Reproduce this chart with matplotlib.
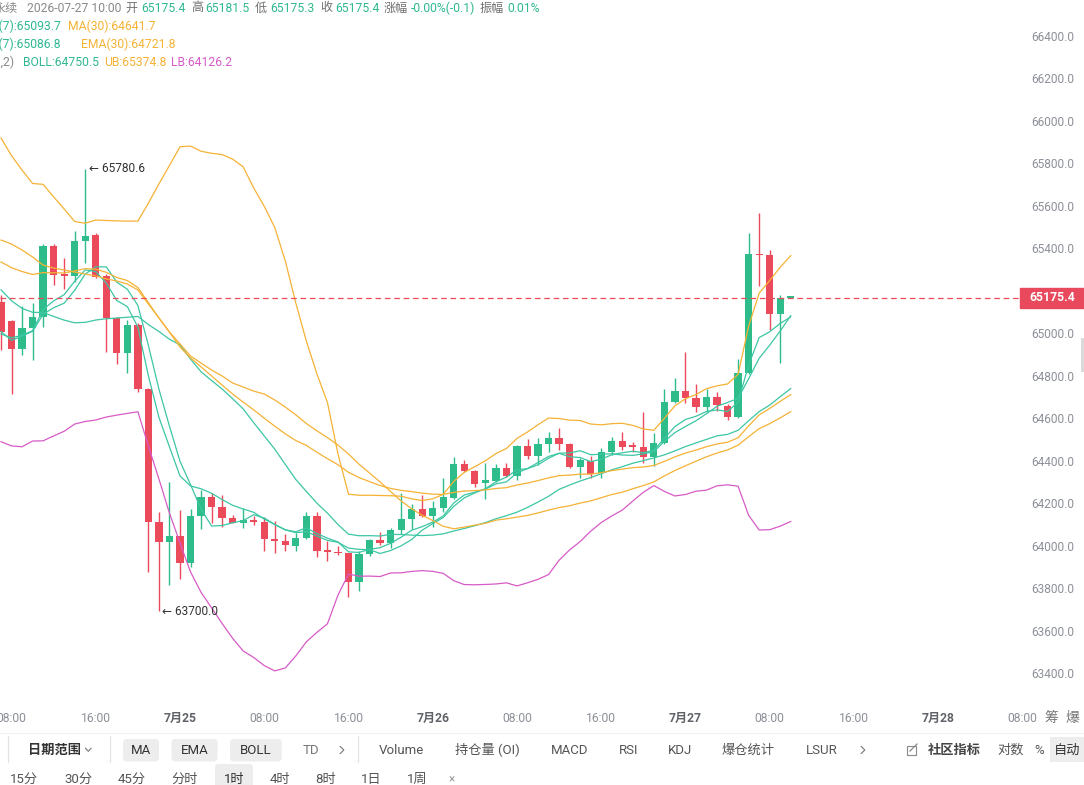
import numpy as np
import pandas as pd
import matplotlib
matplotlib.use('Agg')
import matplotlib.pyplot as plt
from matplotlib.patches import Rectangle, FancyBboxPatch

plt.rcParams['font.family'] = ['Roboto', 'Noto Sans CJK SC', 'DejaVu Sans']

# ---------------- data (1h candles, 2026-07-24 07:00 .. 2026-07-27 10:00) ----------------
opens = [65156, 65065, 64933, 65033, 65084, 65418, 65286, 65277, 65441, 65470,
         65276, 65080, 64916, 65046, 64745, 64119, 64026, 64055, 63925, 64149,
         64235, 64191, 64136, 64113, 64128, 64118, 64040, 64028, 64007, 64045,
         64147, 63987, 63978, 63972, 63838, 63968, 64034, 64022, 64081, 64133,
         64179, 64147, 64183, 64233, 64392, 64359, 64302, 64313, 64372, 64337,
         64477, 64430, 64485, 64513, 64485, 64379, 64406, 64348, 64447, 64500,
         64481, 64473, 64426, 64489, 64682, 64735, 64701, 64659, 64706, 64666,
         64614, 64819, 65380, 65375, 65096, 65175.4]
highs = [65187, 65070, 65135, 65151, 65427, 65427, 65363, 65488, 65780.6, 65479,
         65286, 65085, 65070, 65055, 64750, 64167, 64309, 64175, 64178, 64270,
         64255, 64246, 64152, 64183, 64149, 64144, 64124, 64061, 64069, 64166,
         64166, 64031, 64007, 63975, 63984, 64039, 64073, 64089, 64254, 64202,
         64245, 64218, 64325, 64426, 64411, 64364, 64395, 64392, 64395, 64482,
         64510, 64513, 64544, 64560, 64490, 64419, 64430, 64466, 64517, 64541,
         64497, 64635, 64539, 64743, 64795, 64918, 64768, 64743, 64732, 64674,
         64885, 65478, 65574, 65399, 65187, 65181.5]
lows = [64928, 64721, 64905, 64881, 65038, 65234, 65215, 65250, 65338, 65265,
        64920, 64862, 64820, 64732, 63885, 63700.0, 63822, 63851, 63909, 64086,
        64114, 64097, 64113, 64092, 64105, 63984, 63972, 63982, 63984, 64040,
        63953, 63935, 63964, 63767, 63794, 63959, 64011, 63998, 64061, 64086,
        64141, 64094, 64167, 64228, 64353, 64285, 64226, 64309, 64332, 64317,
        64414, 64387, 64450, 64458, 64375, 64325, 64325, 64325, 64434, 64458,
        64450, 64398, 64382, 64485, 64678, 64678, 64638, 64638, 64643, 64599,
        64610, 64815, 65230, 65023, 64866, 65175.3]
closes = [65015, 64933, 65033, 65084, 65418, 65281, 65277, 65441, 65466, 65273,
          65080, 64916, 65046, 64745, 64119, 64026, 64055, 63925, 64149, 64235,
          64191, 64136, 64116, 64128, 64118, 64038, 64028, 64009, 64045, 64147,
          63984, 63978, 63972, 63838, 63968, 64034, 64022, 64081, 64133, 64179,
          64147, 64183, 64235, 64392, 64359, 64298, 64317, 64372, 64337, 64477,
          64431, 64485, 64513, 64485, 64379, 64411, 64345, 64447, 64500, 64473,
          64473, 64426, 64489, 64682, 64735, 64701, 64662, 64706, 64670, 64614,
          64819, 65380, 65374, 65096, 65172, 65175.4]

# indicator values before their windows fill
ma30_head = [65446, 65427, 65399, 65366, 65328, 65314, 65305, 65295, 65286, 65277,
             65263, 65253, 65239, 65211, 65145, 65079, 65013, 64957, 64900, 64867,
             64834, 64806, 64773, 64754, 64735, 64721, 64693, 64660, 64623]
ub_head = [65926, 65843, 65775, 65712, 65708, 65649, 65592, 65533, 65525, 65540,
           65538, 65536, 65535, 65535, 65620, 65710, 65797, 65885, 65888]
lb_head = [64497, 64477, 64473, 64500, 64501, 64524, 64546, 64580, 64592, 64599,
           64613, 64622, 64630, 64638, 64476, 64321, 64161, 64020, 63884]
ema7_seed = 65000
ema30_seed = 65365
last_price = 65175.4

x_tick_pos = [1, 9, 17, 25, 33, 41, 49, 57, 65, 73, 81, 89, 97]
x_tick_labels = ['08:00', '16:00', '7月25', '08:00', '16:00', '7月26', '08:00',
                 '16:00', '7月27', '08:00', '16:00', '7月28', '08:00']
y_ticks = list(range(63400, 66401, 200))

header1 = [('永续', '#8a8a8a'), ('2026-07-27 10:00', '#8a8a8a'),
           ('开', '#707070'), ('65175.4', None), ('高', '#707070'), ('65181.5', None),
           ('低', '#707070'), ('65175.3', None), ('收', '#707070'), ('65175.4', None),
           ('涨幅', '#707070'), ('-0.00%(-0.1)', None), ('振幅', '#707070'), ('0.01%', None)]
header1_x = [-6.5, 26.8, 125.7, 141, 191, 205, 255, 270, 320, 335, 384, 411, 480, 507]

# ---------------- colours ----------------
GREEN = '#2EBD8A'
RED = '#EB4A5B'
TEAL = '#3CC6A4'
TEAL_TXT = '#2FB892'
ORANGE = '#F5B235'
MAGENTA = '#D75BC7'
GRAY = '#8C9098'

# ---------------- indicators ----------------
c = pd.Series(closes, dtype=float)
ma7 = c.rolling(7, min_periods=1).mean()
ma30 = c.rolling(30).mean()
ma30.iloc[:29] = ma30_head
ema7 = pd.Series([ema7_seed] + closes, dtype=float).ewm(span=7, adjust=False).mean().iloc[1:].reset_index(drop=True)
ema30 = pd.Series([ema30_seed] + closes, dtype=float).ewm(span=30, adjust=False).mean().iloc[1:].reset_index(drop=True)
mid = c.rolling(20).mean()
sd = c.rolling(20).std(ddof=0)
ub = mid + 2 * sd
lb = mid - 2 * sd
ub.iloc[:19] = ub_head
lb.iloc[:19] = lb_head
mid.iloc[:19] = (np.array(ub_head) + np.array(lb_head)) / 2

# ---------------- figure ----------------
W, H = 1084, 785
fig = plt.figure(figsize=(W / 100, H / 100), dpi=100)
fig.patch.set_facecolor('white')

PX_PER_BAR = 10.53
ax = fig.add_axes([0, (H - 705) / H, 1, 705 / H])
ax.set_xlim(-1 / PX_PER_BAR, (W - 1) / PX_PER_BAR)
ax.set_ylim(63257.8, 66575.5)
ax.axis('off')

x = np.arange(len(closes))
for i in x:
    o, h, l, cl = opens[i], highs[i], lows[i], closes[i]
    col = GREEN if cl >= o else RED
    ax.vlines(i, l, h, color=col, lw=1.0, zorder=2)
    ax.bar(i, max(abs(cl - o), 5), bottom=min(o, cl), width=0.69, color=col,
           linewidth=0, zorder=2)

lw = 0.9
ax.plot(x, ma7, color=TEAL, lw=lw, zorder=3)
ax.plot(x, ema7, color=TEAL, lw=lw, zorder=3)
ax.plot(x, mid, color=TEAL, lw=lw, zorder=3)
ax.plot(x, ma30, color=ORANGE, lw=lw, zorder=3)
ax.plot(x, ema30, color=ORANGE, lw=lw, zorder=3)
ax.plot(x, ub, color=ORANGE, lw=lw, zorder=3)
ax.plot(x, lb, color=MAGENTA, lw=lw, zorder=3)

# last price line + tag
ax.axhline(last_price, xmin=0, xmax=1020 / W, color=RED, lw=0.9,
           ls=(0, (4.5, 3)), zorder=4)
ax.add_patch(Rectangle((1020 / W, last_price - 47), 64 / W, 94,
                       transform=ax.get_yaxis_transform(), color='#E8495C',
                       clip_on=False, zorder=5))
ax.text(1052 / W, last_price, f'{last_price:.1f}', transform=ax.get_yaxis_transform(),
        ha='center', va='center', color='white', fontsize=8.8, fontweight='bold', zorder=6)

# y labels (the one hidden under the price tag is not shown)
for v in y_ticks:
    if abs(v - last_price) < 90:
        continue
    ax.text(1074 / W, v, f'{v:.1f}', transform=ax.get_yaxis_transform(),
            ha='right', va='center', color=GRAY, fontsize=8.6)

# x labels
for p, lab in zip(x_tick_pos, x_tick_labels):
    is_date = '月' in lab
    ax.text(p, (705 - 718) / 705, lab, transform=ax.get_xaxis_transform(),
            ha='center', va='center', fontsize=8.7,
            color='#5f6368' if is_date else GRAY,
            fontweight='bold' if is_date else 'normal', clip_on=False)

# extremes
imax = int(np.argmax(highs))
imin = int(np.argmin(lows))
ax.text(imax + 0.35, highs[imax], f'← {highs[imax]:.1f}', ha='left', va='center',
        fontsize=8.6, color='#333333', family=['Roboto', 'DejaVu Sans'], zorder=6)
ax.text(imin + 0.3, lows[imin], f'← {lows[imin]:.1f}', ha='left', va='center',
        fontsize=8.6, color='#333333', family=['Roboto', 'DejaVu Sans'], zorder=6)

# ---------------- overlay in pixel coordinates ----------------
ov = fig.add_axes([0, 0, 1, 1])
ov.set_xlim(0, W)
ov.set_ylim(H, 0)
ov.axis('off')

HF = 8.7
for (s, col), px in zip(header1, header1_x):
    ov.text(px, 8, s, color=col if col else TEAL_TXT, fontsize=HF, ha='left', va='center')
ov.text(60.7, 26, 'MA(7):65093.7', color=TEAL_TXT, fontsize=HF, ha='right', va='center')
ov.text(68, 26, 'MA(30):64641.7', color=ORANGE, fontsize=HF, ha='left', va='center')
ov.text(60.7, 44, 'EMA(7):65086.8', color=TEAL_TXT, fontsize=HF, ha='right', va='center')
ov.text(81, 44, 'EMA(30):64721.8', color=ORANGE, fontsize=HF, ha='left', va='center')
ov.text(14.5, 62, 'BOLL(20,2)', color='#8a8a8a', fontsize=HF, ha='right', va='center')
ov.text(23, 62, 'BOLL:64750.5', color=TEAL_TXT, fontsize=HF, ha='left', va='center')
ov.text(104, 62, 'UB:65374.8', color=ORANGE, fontsize=HF, ha='left', va='center')
ov.text(171, 62, 'LB:64126.2', color=MAGENTA, fontsize=HF, ha='left', va='center')

# right edge scroll handle
ov.add_patch(Rectangle((1081, 338), 3, 34, color='#DADADA', lw=0))

# x-axis extra icons
ov.text(1051, 718, '筹', color='#777777', fontsize=10, ha='center', va='center')
ov.text(1072, 718, '爆', color='#777777', fontsize=10, ha='center', va='center')

# toolbar
ov.plot([0, W], [733, 733], color='#F0F0F0', lw=0.8)
for sx in [7.6, 110, 358]:
    ov.plot([sx, sx], [736, 762], color='#E3E3E3', lw=0.9)

TB = 9.5
ROW1, ROW2 = 750, 779
ov.text(27.5, ROW1, '日期范围', color='#333333', fontsize=TB, fontweight='bold', ha='left', va='center')
ov.plot([85.5, 88.3, 91.1], [748.3, 751.3, 748.3], color='#777777', lw=0.8)

for (x0, x1, lab) in [(123, 159, 'MA'), (171.5, 217.6, 'EMA'), (230, 281.7, 'BOLL')]:
    ov.add_patch(FancyBboxPatch((x0, 739), x1 - x0, 22.5,
                                boxstyle='round,pad=0,rounding_size=4',
                                fc='#EDEDED', ec='none'))
    ov.text((x0 + x1) / 2, ROW1, lab, color='#333333', fontsize=TB, ha='center', va='center')

ov.text(311, ROW1, 'TD', color='#777777', fontsize=TB, ha='center', va='center')
for cx in [342, 863]:
    ov.plot([cx - 1.8, cx + 1.8, cx - 1.8], [746.5, 750, 753.5], color='#777777', lw=0.8)

for cx, lab in [(401, 'Volume'), (487, '持仓量 (OI)'), (570, 'MACD'), (629, 'RSI'),
                (680, 'KDJ'), (748, '爆仓统计'), (822, 'LSUR')]:
    ov.text(cx, ROW1, lab, color='#555555', fontsize=TB, ha='center', va='center')

# edit icon
ov.add_patch(Rectangle((906.5, 745.5), 9, 9, fill=False, ec='#888888', lw=0.8))
ov.plot([910, 917], [751, 744], color='#888888', lw=0.9)
ov.text(954, ROW1, '社区指标', color='#444444', fontsize=TB, fontweight='bold', ha='center', va='center')
ov.text(1011, ROW1, '对数', color='#555555', fontsize=TB, ha='center', va='center')
ov.text(1039, ROW1, '%', color='#555555', fontsize=TB, ha='center', va='center')
ov.add_patch(Rectangle((1050, 737), 40, 25, color='#EDEDED', lw=0))
ov.text(1067, ROW1, '自动', color='#333333', fontsize=TB, ha='center', va='center')

# timeframe row
ov.add_patch(FancyBboxPatch((215, 764), 38, 26, boxstyle='round,pad=0,rounding_size=3',
                            fc='#EDEDED', ec='none'))
for cx, lab in [(24, '15分'), (78, '30分'), (132, '45分'), (184.5, '分时'), (234, '1时'),
                (280, '4时'), (326, '8时'), (371.6, '1日'), (417.6, '1周')]:
    ov.text(cx, ROW2, lab, color='#333333' if lab == '1时' else '#555555',
            fontsize=TB, ha='center', va='center')
ov.text(452, ROW2, '×', color='#999999', fontsize=8.5, ha='center', va='center')

fig.savefig('out.png', dpi=100, facecolor='white')
